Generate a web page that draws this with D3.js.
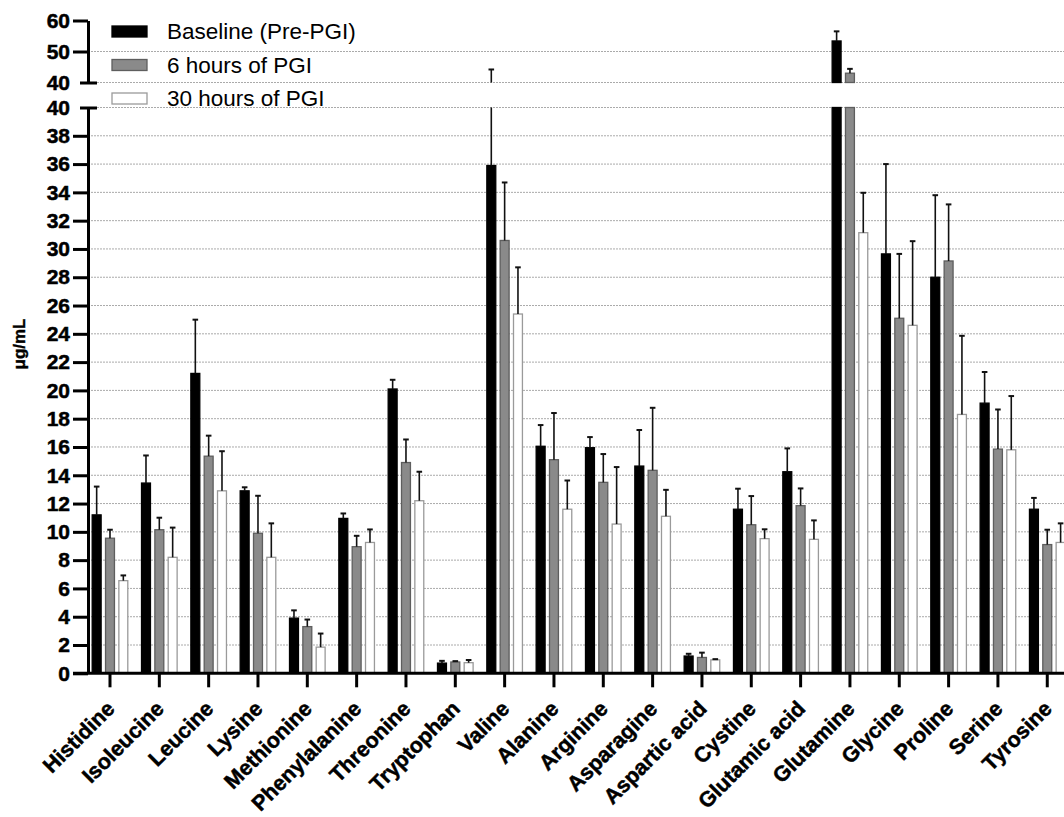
<!DOCTYPE html>
<html>
<head>
<meta charset="utf-8">
<script src="https://cdn.jsdelivr.net/npm/d3@7"></script>
<style>
  body { margin: 0; background: #fff; }
  svg { display: block; font-family: "Liberation Sans", Arial, sans-serif; }
</style>
</head>
<body>
<script>
const categories = ["Histidine", "Isoleucine", "Leucine", "Lysine", "Methionine", "Phenylalanine",
    "Threonine", "Tryptophan", "Valine", "Alanine", "Arginine", "Asparagine", "Aspartic acid",
    "Cystine", "Glutamic acid", "Glutamine", "Glycine", "Proline", "Serine", "Tyrosine"];

const seriesNames = ["Baseline (Pre-PGI)", "6 hours of PGI", "30 hours of PGI"];

const baseline   = [11.2, 13.45, 21.2, 12.9, 3.9, 10.95, 20.1, 0.72, 35.9, 16.05, 15.95, 14.65, 1.22, 11.6, 14.25, 53.4, 29.65, 28.0, 19.1, 11.6];
const baselineSD = [2.0, 1.95, 3.8, 0.25, 0.55, 0.35, 0.65, 0.16, 8.3, 1.5, 0.75, 2.55, 0.16, 1.45, 1.65, 3.1, 6.35, 5.8, 2.2, 0.8];

const hours6   = [9.55, 10.15, 15.35, 9.9, 3.3, 8.95, 14.9, 0.8, 30.6, 15.1, 13.5, 14.35, 1.12, 10.5, 11.85, 43.0, 25.1, 29.15, 15.85, 9.1];
const hours6SD = [0.6, 0.85, 1.45, 2.65, 0.5, 0.77, 1.63, 0.06, 4.1, 3.3, 2.0, 4.42, 0.34, 2.03, 1.22, 1.4, 4.55, 4.0, 2.8, 1.05];

const hours30   = [6.55, 8.2, 12.9, 8.2, 1.85, 9.25, 12.2, 0.75, 25.4, 11.6, 10.55, 11.1, 0.95, 9.52, 9.47, 31.15, 24.6, 18.3, 15.8, 9.25];
const hours30SD = [0.37, 2.1, 2.8, 2.4, 0.96, 0.92, 2.05, 0.19, 3.3, 2.03, 4.03, 1.87, 0.05, 0.66, 1.34, 2.82, 5.95, 5.56, 3.8, 1.35];

const lowerTicks = d3.range(0, 41, 2);
const upperTicks = [40, 50, 60];

const series = [
    { name: seriesNames[0], values: baseline, sd: baselineSD, fill: "#000", stroke: "#000" },
    { name: seriesNames[1], values: hours6, sd: hours6SD, fill: "#8a8a8a", stroke: "#5e5e5e" },
    { name: seriesNames[2], values: hours30, sd: hours30SD, fill: "#fff", stroke: "#9a9a9a" }
];

const width = 1064, height = 817;
const axisX = 88;
const breakAt = 40;

const svg = d3.select("body").append("svg").attr("width", width).attr("height", height);

const x = d3.scaleBand().domain(categories).range([85.33, 85.33 + 49.33 * categories.length]);
const xs = d3.scaleBand().domain([0, 1, 2]).range([-20, 20]).paddingInner(0.33).paddingOuter(0.165);
const yLow = d3.scaleLinear().domain([0, 40]).range([673.3, 107.5]);
const yHigh = d3.scaleLinear().domain([40, 60]).range([82.5, 20.5]);

// gridlines
const grid = svg.append("g");
const gridLines = lowerTicks.filter(d => d > 0).map(d => yLow(d))
    .concat([40, 50].map(d => yHigh(d)));
grid.selectAll("line").data(gridLines).join("line")
    .attr("x1", axisX).attr("x2", width)
    .attr("y1", d => d).attr("y2", d => d)
    .attr("stroke", "#aaa").attr("stroke-width", 1).attr("stroke-dasharray", "2,1");

// bars
const bars = svg.append("g");
series.forEach((s, si) => {
    const g = bars.append("g");
    const bw = xs.bandwidth();
    const bx = (d, i) => x(categories[i]) + x.bandwidth() / 2 + xs(si);
    // lower segment
    g.selectAll("rect.low").data(s.values).join("rect").attr("class", "low")
        .attr("x", bx).attr("width", bw)
        .attr("y", d => yLow(Math.min(d, breakAt)))
        .attr("height", d => yLow(0) - yLow(Math.min(d, breakAt)))
        .attr("fill", s.fill).attr("stroke", s.stroke).attr("stroke-width", 1.3);
    // upper segment
    const upIdx = s.values.map((d, i) => i).filter(i => s.values[i] > breakAt);
    g.selectAll("rect.high").data(upIdx).join("rect").attr("class", "high")
        .attr("x", i => bx(null, i)).attr("width", bw)
        .attr("y", i => yHigh(s.values[i]))
        .attr("height", i => yHigh(breakAt) - yHigh(s.values[i]))
        .attr("fill", s.fill).attr("stroke", s.stroke).attr("stroke-width", 1.3);

    // error bars
    s.values.forEach((v, i) => {
        const cx = bx(null, i) + bw / 2;
        const top = v + s.sd[i];
        const eg = g.append("g").attr("stroke", "#111");
        if (v < breakAt) {
            eg.append("line").attr("x1", cx).attr("x2", cx)
                .attr("y1", yLow(v)).attr("y2", yLow(Math.min(top, breakAt)))
                .attr("stroke-width", 1.6);
        }
        if (top > breakAt) {
            eg.append("line").attr("x1", cx).attr("x2", cx)
                .attr("y1", yHigh(Math.max(v, breakAt))).attr("y2", yHigh(top))
                .attr("stroke-width", 1.6);
        }
        const capY = top > breakAt ? yHigh(top) : yLow(top);
        eg.append("line").attr("x1", cx - 2.8).attr("x2", cx + 2.8)
            .attr("y1", capY).attr("y2", capY).attr("stroke-width", 2);
    });
});

// y axes
function styleAxis(g) {
    g.selectAll(".domain").attr("stroke", "#000").attr("stroke-width", 3);
    g.selectAll(".tick line").attr("stroke", "#000").attr("stroke-width", 3);
    g.selectAll(".tick text").attr("fill", "#000").attr("font-size", 21).attr("font-weight", "bold")
        .attr("stroke", "#000").attr("stroke-width", 0.5)
        .attr("font-family", "'Liberation Sans', Arial, sans-serif");
    g.selectAll(".tick").filter(d => d === 40).select("line").attr("x1", 9).attr("x2", -8);
}

const gLow = svg.append("g").attr("transform", `translate(${axisX},0)`)
    .call(d3.axisLeft(yLow).tickValues(lowerTicks).tickSize(15).tickSizeOuter(0).tickPadding(3));
styleAxis(gLow);
const gHigh = svg.append("g").attr("transform", `translate(${axisX},0)`)
    .call(d3.axisLeft(yHigh).tickValues(upperTicks).tickSize(15).tickSizeOuter(0).tickPadding(3));
styleAxis(gHigh);

// x axis
const gx = svg.append("g").attr("transform", `translate(0,${yLow(0)})`)
    .call(d3.axisBottom(x).tickSize(14).tickSizeOuter(0).tickFormat(""));
gx.select(".domain").attr("d", `M73,0H${width}`).attr("stroke", "#000").attr("stroke-width", 3);
gx.selectAll(".tick line").attr("stroke", "#000").attr("stroke-width", 3);

svg.append("g").selectAll("text").data(categories).join("text")
    .attr("transform", d => `translate(${x(d) + x.bandwidth() / 2 + 6},710) rotate(-45)`)
    .attr("text-anchor", "end")
    .attr("font-size", 21.5).attr("font-weight", "bold")
    .attr("stroke", "#000").attr("stroke-width", 0.5)
    .text(d => d);

// y title
svg.append("text")
    .attr("transform", "translate(25,344) rotate(-90)")
    .attr("text-anchor", "middle")
    .attr("font-size", 17).attr("font-weight", "bold")
    .attr("stroke", "#000").attr("stroke-width", 0.4)
    .text("μg/mL");

// legend
const legend = svg.append("g");
series.forEach((s, i) => {
    const cy = 31.5 + i * 33.5;
    legend.append("rect").attr("x", 112).attr("y", cy - 5.5).attr("width", 35).attr("height", 11)
        .attr("fill", s.fill).attr("stroke", s.stroke).attr("stroke-width", 1.3);
    legend.append("text").attr("x", 167).attr("y", cy + 7.5)
        .attr("font-size", 22.5).text(s.name);
});
</script>
</body>
</html>
